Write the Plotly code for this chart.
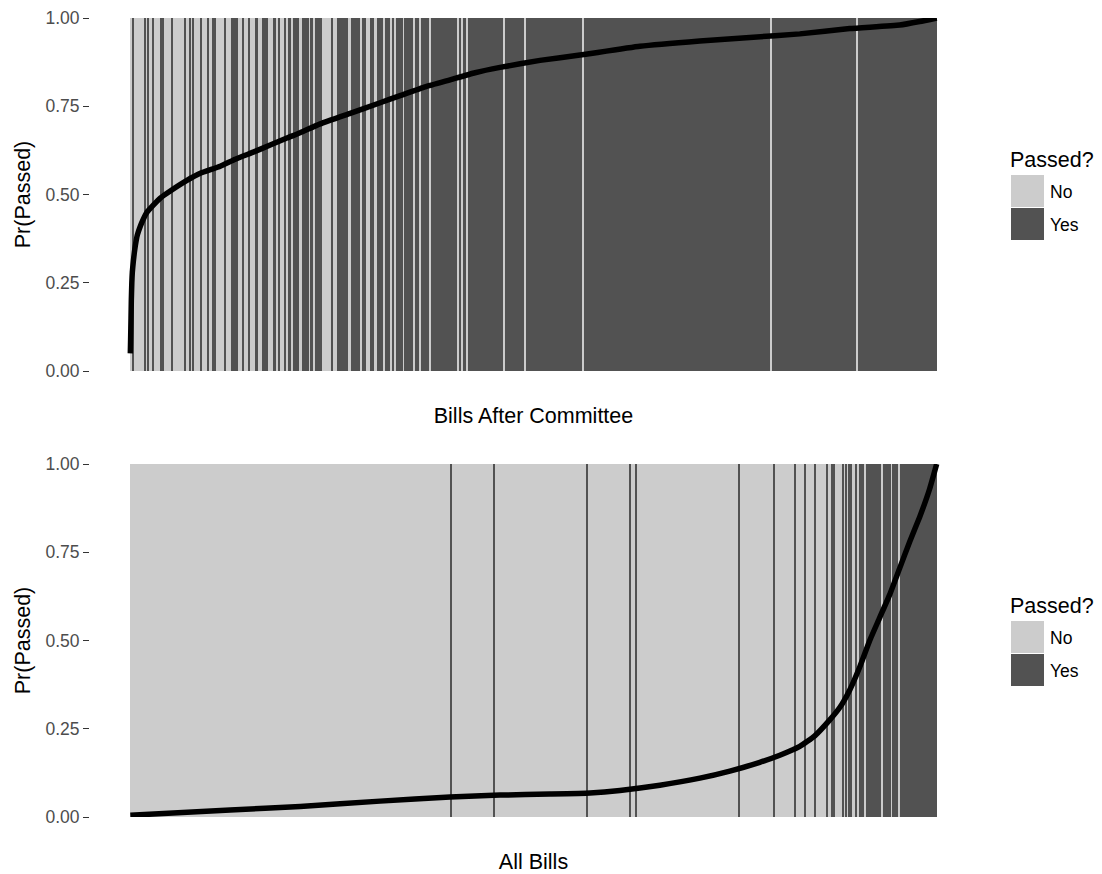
import plotly.graph_objects as go

# ---------------- data ----------------
# Bills are sorted by predicted probability; ranks run from 0 to N.
N_TOP = 807
N_ALL = 807

# Rank intervals where the bill passed (Yes) -- top panel: bills after committee
top_yes_runs = [
    (2.5, 3.5), (14.3, 15.5), (17.5, 18.9), (22.2, 23.6), (29.5, 34.0), (41.7, 43.2),
    (53.3, 55.7), (59.2, 60.8), (62.7, 64.2), (70.0, 71.5), (77.1, 78.7), (81.5, 86.0),
    (94.5, 96.0), (101.2, 107.8), (112.5, 114.0), (118.3, 119.7), (125.0, 128.0),
    (132.0, 137.7), (142.7, 145.3), (147.3, 150.0), (153.3, 155.7), (158.3, 161.0),
    (163.3, 169.0), (172.0, 178.7), (180.0, 183.3), (185.0, 191.7), (200.7, 203.3),
    (206.7, 218.3), (221.0, 230.0), (231.7, 235.7), (240.0, 244.0), (246.7, 253.3),
    (255.3, 260.0), (261.7, 264.0), (266.0, 272.7), (274.3, 282.7), (285.0, 288.7),
    (290.7, 298.7), (300.7, 327.3), (329.0, 330.7), (332.7, 335.7), (338.0, 373.3),
    (375.3, 394.0), (396.0, 451.7), (453.7, 640.0), (642.0, 726.7), (728.3, 807.0),
]

# Rank intervals where the bill passed (Yes) -- bottom panel: all bills
all_yes_runs = [
    (320.7, 321.7), (363.0, 364.3), (456.7, 458.0), (499.7, 500.7), (505.3, 506.7),
    (608.0, 610.5), (643.3, 645.0), (664.3, 666.7), (674.7, 676.0), (685.0, 686.7),
    (696.3, 697.6), (701.2, 705.0), (712.7, 714.3), (715.7, 717.0), (718.7, 722.3),
    (725.0, 727.3), (729.3, 734.0), (736.7, 751.7), (753.3, 761.0), (762.7, 768.3),
    (770.0, 807.0),
]

# Predicted probability curve (rank, Pr(Passed))
top_curve_rank = [0, 0.3, 0.7, 1, 1.5, 2, 3, 4, 5, 7, 10, 13, 16.7, 23, 30, 40, 56.7,
                  70, 90, 105, 123, 140, 156.7, 170, 190, 220, 250, 270, 295, 320,
                  345, 370, 410, 450, 510, 570, 620, 670, 720, 770, 790, 807]
top_curve_prob = [0.05, 0.09, 0.15, 0.20, 0.25, 0.28, 0.31, 0.335, 0.355, 0.385,
                  0.41, 0.43, 0.45, 0.47, 0.49, 0.51, 0.54, 0.56, 0.58, 0.60, 0.62,
                  0.64, 0.66, 0.675, 0.70, 0.73, 0.76, 0.78, 0.805, 0.825, 0.845,
                  0.86, 0.88, 0.895, 0.92, 0.935, 0.945, 0.955, 0.97, 0.98, 0.99, 1.0]

all_curve_rank = [0, 100, 170, 250, 320, 370, 420, 460, 490, 530, 570, 600, 630, 650,
                  670, 685, 700, 710, 720, 730, 740, 750, 760, 770, 780, 790, 800, 807]
all_curve_prob = [0.005, 0.02, 0.03, 0.045, 0.057, 0.062, 0.065, 0.068, 0.075, 0.09,
                  0.11, 0.13, 0.155, 0.175, 0.20, 0.23, 0.275, 0.31, 0.36, 0.425,
                  0.50, 0.565, 0.63, 0.705, 0.78, 0.85, 0.93, 1.0]

y_ticks = [0.0, 0.25, 0.5, 0.75, 1.0]
y_tick_labels = ["0.00", "0.25", "0.50", "0.75", "1.00"]

COL_NO = "#CCCCCC"
COL_YES = "#525252"


def complement(runs, n):
    out, pos = [], 0.0
    for a, b in runs:
        if a > pos:
            out.append((pos, a))
        pos = max(pos, b)
    if pos < n:
        out.append((pos, n))
    return out


def bars(runs, color, name, xa, ya):
    return go.Bar(
        x=[(a + b) / 2 for a, b in runs],
        y=[1.0] * len(runs),
        width=[b - a for a, b in runs],
        base=0,
        marker=dict(color=color, line=dict(width=0)),
        name=name, xaxis=xa, yaxis=ya, showlegend=False,
        hoverinfo="skip",
    )


fig = go.Figure()
fig.add_trace(bars(complement(top_yes_runs, N_TOP), COL_NO, "No", "x", "y"))
fig.add_trace(bars(top_yes_runs, COL_YES, "Yes", "x", "y"))
fig.add_trace(go.Scatter(x=top_curve_rank, y=top_curve_prob, mode="lines",
                         line=dict(color="black", width=5.5, shape="spline", smoothing=0.4),
                         showlegend=False, xaxis="x", yaxis="y", hoverinfo="skip"))

fig.add_trace(bars(complement(all_yes_runs, N_ALL), COL_NO, "No", "x2", "y2"))
fig.add_trace(bars(all_yes_runs, COL_YES, "Yes", "x2", "y2"))
fig.add_trace(go.Scatter(x=all_curve_rank, y=all_curve_prob, mode="lines",
                         line=dict(color="black", width=5.5, shape="spline", smoothing=0.4),
                         showlegend=False, xaxis="x2", yaxis="y2", hoverinfo="skip"))

W, H = 1102, 874
# ggplot-style 5% expansion of the x scale on both sides
pad_top = 0.05 * N_TOP
pad_all = 0.05 * N_ALL
xdom = [90 / W, 977 / W]
top_dom = [1 - 371 / H, 1 - 18 / H]
bot_dom = [1 - 817 / H, 1 - 464 / H]

font_family = "Liberation Sans, Arial, sans-serif"

xcommon = dict(showticklabels=False, ticks="", showgrid=False, zeroline=False,
               showline=False, automargin=False,
               title_font=dict(size=21.5, color="black", family=font_family),
               title_standoff=36)
ycommon = dict(range=[0, 1], tickvals=y_ticks, ticktext=y_tick_labels, ticks="outside",
               ticklen=6, tickwidth=1.2, tickcolor="#333333", showgrid=False,
               zeroline=False, showline=False, automargin=False,
               tickfont=dict(size=17.5, color="#4D4D4D", family=font_family),
               title_font=dict(size=21.5, color="black", family=font_family),
               title_standoff=8)

# Custom legend (ggplot-style large keys), built per panel
legend_labels = ["No", "Yes"]
legend_colors = [COL_NO, COL_YES]
legend_title = "Passed?"

shapes, annotations = [], []
for off in (0, 446):
    annotations.append(dict(text=legend_title, xref="paper", yref="paper",
                            x=1008 / W, y=1 - (160 + off) / H, xanchor="left",
                            yanchor="middle", showarrow=False,
                            font=dict(size=21.5, color="black", family=font_family)))
    for i, (lab, col) in enumerate(zip(legend_labels, legend_colors)):
        k_top = 175 + off + i * 33
        shapes.append(dict(type="rect", xref="paper", yref="paper",
                           x0=1011 / W, x1=1044 / W,
                           y0=1 - (k_top + 32) / H, y1=1 - k_top / H,
                           fillcolor=col, line=dict(width=0)))
        annotations.append(dict(text=lab, xref="paper", yref="paper",
                                x=1048 / W, y=1 - (k_top + 17) / H,
                                xanchor="left", yanchor="middle", showarrow=False,
                                font=dict(size=17.5, color="black", family=font_family)))

fig.update_layout(
    width=W, height=H,
    margin=dict(l=0, r=0, t=0, b=0, autoexpand=False),
    paper_bgcolor="white", plot_bgcolor="white",
    barmode="overlay", bargap=0,
    font=dict(family=font_family),
    showlegend=False,
    xaxis=dict(domain=xdom, range=[-pad_top, N_TOP + pad_top], anchor="y",
               title_text="Bills After Committee", **xcommon),
    yaxis=dict(domain=top_dom, anchor="x", title_text="Pr(Passed)", **ycommon),
    xaxis2=dict(domain=xdom, range=[-pad_all, N_ALL + pad_all], anchor="y2",
                title_text="All Bills", **xcommon),
    yaxis2=dict(domain=bot_dom, anchor="x2", title_text="Pr(Passed)", **ycommon),
    shapes=shapes,
    annotations=annotations,
)

fig.write_html("out.html")
